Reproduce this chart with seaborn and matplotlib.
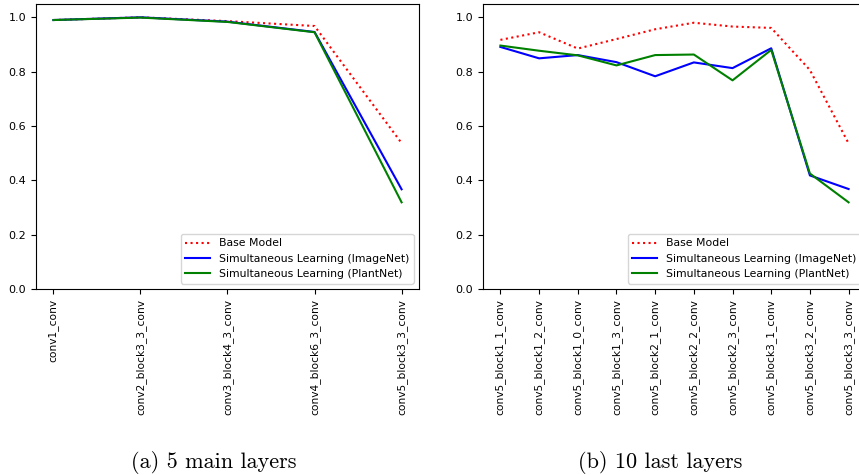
import matplotlib
matplotlib.use("Agg")
import matplotlib.pyplot as plt
import seaborn as sns

main_layers = ['conv1_conv', 'conv2_block3_3_conv', 'conv3_block4_3_conv',
               'conv4_block6_3_conv', 'conv5_block3_3_conv']
main_base = [0.990, 1.000, 0.986, 0.968, 0.537]
main_imagenet = [0.990, 1.000, 0.984, 0.946, 0.367]
main_plantnet = [0.990, 0.999, 0.983, 0.945, 0.319]

last_layers = ['conv5_block1_1_conv', 'conv5_block1_2_conv', 'conv5_block1_0_conv',
               'conv5_block1_3_conv', 'conv5_block2_1_conv', 'conv5_block2_2_conv',
               'conv5_block2_3_conv', 'conv5_block3_1_conv', 'conv5_block3_2_conv',
               'conv5_block3_3_conv']
last_base = [0.917, 0.945, 0.885, 0.920, 0.956, 0.980, 0.966, 0.961, 0.806, 0.536]
last_imagenet = [0.891, 0.849, 0.861, 0.835, 0.783, 0.834, 0.813, 0.886, 0.418, 0.368]
last_plantnet = [0.896, 0.877, 0.860, 0.823, 0.861, 0.863, 0.768, 0.880, 0.425, 0.319]

fig = plt.figure(figsize=(8.59, 4.75), dpi=100)
ax1 = fig.add_axes([36 / 859, 1 - 289 / 475, 383 / 859, 285 / 475])
ax2 = fig.add_axes([483 / 859, 1 - 289 / 475, 383 / 859, 285 / 475])


def draw(ax, layers, base, imagenet, plantnet):
    x = list(range(len(layers)))
    sns.lineplot(x=x, y=base, ax=ax, color='red', linestyle=':', label='Base Model')
    sns.lineplot(x=x, y=imagenet, ax=ax, color='blue', label='Simultaneous Learning (ImageNet)')
    sns.lineplot(x=x, y=plantnet, ax=ax, color='green', label='Simultaneous Learning (PlantNet)')
    ax.set_xticks(x)
    ax.set_xticklabels(layers, rotation=90, fontsize=7.7)
    ax.set_ylim(0, 1.049)
    ax.set_yticks([0.0, 0.2, 0.4, 0.6, 0.8, 1.0])
    ax.tick_params(axis='y', labelsize=8)
    ax.legend(loc='lower right', fontsize=7.8, handlelength=2.3)


draw(ax1, main_layers, main_base, main_imagenet, main_plantnet)
draw(ax2, last_layers, last_base, last_imagenet, last_plantnet)

fig.text(214 / 859, 1 - 462 / 475, '(a) 5 main layers', ha='center', va='center',
         fontsize=16, family='cmr10')
fig.text(660 / 859, 1 - 462 / 475, '(b) 10 last layers', ha='center', va='center',
         fontsize=16, family='cmr10')

fig.savefig('out.png', dpi=100)
